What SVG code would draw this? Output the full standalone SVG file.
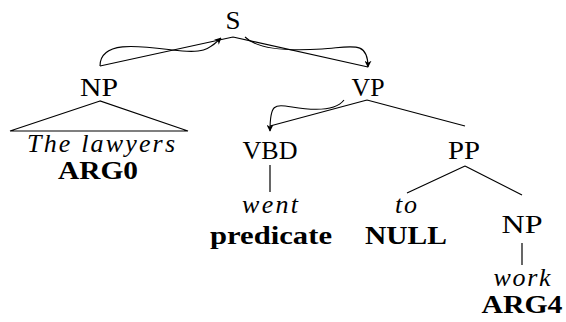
<svg xmlns="http://www.w3.org/2000/svg" width="566" height="322" viewBox="0 0 566 322">
<style>
text{font-family:"Liberation Serif","Times New Roman",serif;font-size:26px;fill:#000;text-anchor:middle}
.it{font-style:italic}
.b{font-weight:bold}
.e{stroke:#000;stroke-width:1.2;fill:none}
.a{stroke:#000;stroke-width:1.1;fill:none;marker-end:url(#ah)}
</style>
<defs>
<marker id="ah" viewBox="0 0 10 10" refX="9" refY="5" markerWidth="7" markerHeight="7" orient="auto" markerUnits="userSpaceOnUse">
<path d="M0,0 L10,5 L0,10 L3,5 Z" fill="#000"/>
</marker>
</defs>
<rect width="566" height="322" fill="#fff"/>
<g id="connectors">
<path class="e" d="M233,37 L100,66 M233,37 L368,67"/>
<path class="e" d="M100,101 L10,131 L188,131 Z"/>
<path class="e" d="M367,100 L270,126 M367,100 L465,126"/>
<path class="e" d="M270,165 L270,192"/>
<path class="e" d="M465,166 L407,193 M465,166 L522,195"/>
<path class="e" d="M522,243 L522,265"/>
<path class="a" d="M100,66 C100,40 140,46 172,50 S208,50 221,38"/>
<path class="a" d="M245,37 C258,50 292,51 322,49 S368,40 368,67"/>
<path class="a" d="M344,100 C335,112 310,110 292,107 S270,104 270,131"/>
</g>
<g id="S"><text x="233" y="29" textLength="15" lengthAdjust="spacingAndGlyphs">S</text></g>
<g id="NP"><text x="99" y="96" textLength="38" lengthAdjust="spacingAndGlyphs">NP</text></g>
<g id="NP_leaf"><text class="it" x="101" y="152" textLength="148" lengthAdjust="spacing">The lawyers</text>
<text class="b" x="98" y="179" textLength="80" lengthAdjust="spacingAndGlyphs">ARG0</text></g>
<g id="VP"><text x="368" y="96" textLength="33" lengthAdjust="spacingAndGlyphs">VP</text></g>
<g id="VBD"><text x="270" y="159" textLength="55" lengthAdjust="spacingAndGlyphs">VBD</text></g>
<g id="VBD_leaf"><text class="it" x="270" y="213" textLength="56" lengthAdjust="spacing">went</text>
<text class="b" x="271" y="244" textLength="122" lengthAdjust="spacingAndGlyphs">predicate</text></g>
<g id="PP"><text x="464" y="159" textLength="32" lengthAdjust="spacingAndGlyphs">PP</text></g>
<g id="TO_leaf"><text class="it" x="406" y="213" textLength="22" lengthAdjust="spacing">to</text>
<text class="b" x="406" y="244" textLength="82" lengthAdjust="spacingAndGlyphs">NULL</text></g>
<g id="NP2"><text x="522" y="233" textLength="41" lengthAdjust="spacingAndGlyphs">NP</text></g>
<g id="NP2_leaf"><text class="it" x="522" y="286" textLength="57" lengthAdjust="spacing">work</text>
<text class="b" x="522" y="313" textLength="81" lengthAdjust="spacingAndGlyphs">ARG4</text></g>
</svg>
